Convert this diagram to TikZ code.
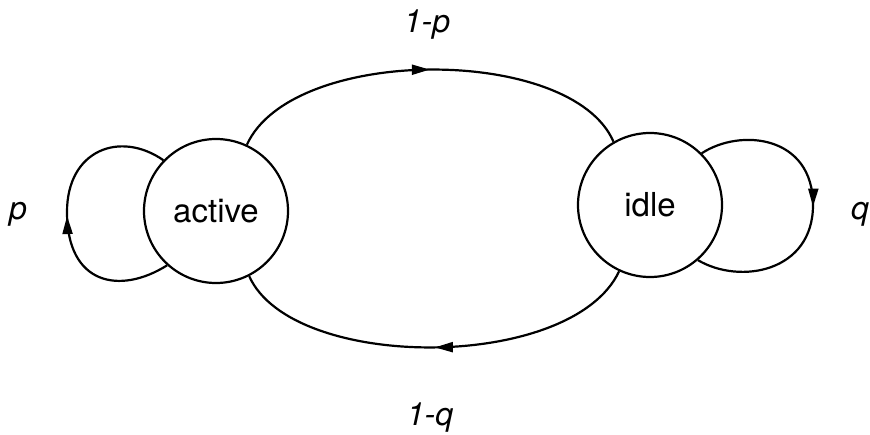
\documentclass[tikz,border=0pt]{standalone}
\usepackage{fontspec}
\setmainfont{TeX Gyre Heros}
\usetikzlibrary{arrows.meta,decorations.markings}
\tikzset{
  state/.style={circle,draw,line width=2.2pt,minimum size=144pt,inner sep=0pt,
    font=\fontsize{33}{38}\selectfont},
  edge/.style={line width=2.2pt,postaction={decorate},decoration={markings,
    mark=at position 0.5 with {\arrow{Triangle[length=18pt,width=10pt]}}}},
  lbl/.style={font=\fontsize{32}{38}\selectfont\itshape}
}
\begin{document}
\begin{tikzpicture}[x=1pt,y=-1pt]
\useasboundingbox (0,0) rectangle (870,434);
\node[state] (a) at (216,211) {active};
\node[state] (i) at (650,205) {idle};
% top arc
\draw[edge] (a.65) .. controls (292,45) and (572,45) .. (i.120);
% bottom arc
\draw[edge] (i.-115) .. controls (572,372) and (292,372) .. (a.-63);
% active self loop
\draw[edge] (a.228) .. controls (120,295) and (67,285) .. (67,212)
  .. controls (67,150) and (120,130) .. (a.136);
% idle self loop
\draw[edge] (i.45) .. controls (740,128) and (813,135) .. (813,205)
  .. controls (813,272) and (740,285) .. (i.-49);
\node[lbl] (l1) at (427,25) {1-p};
\node[lbl] (l2) at (430,418) {1-q};
\node[lbl] (l3) at (18,214) {p};
\node[lbl] (l4) at (860,214) {q};
\end{tikzpicture}
\end{document}
